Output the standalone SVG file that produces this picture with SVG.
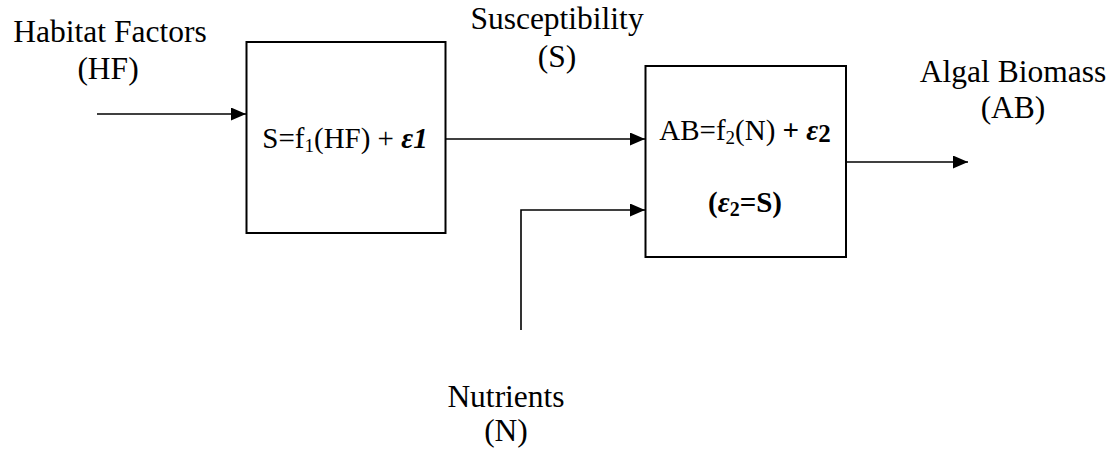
<svg xmlns="http://www.w3.org/2000/svg" width="1115" height="452" viewBox="0 0 1115 452" font-family="'Liberation Serif', 'Times New Roman', serif">
<style>
  .lbl { font-family: 'Liberation Serif', 'Times New Roman', serif; font-size: 31.5px; text-anchor: middle; fill: #000; }
  .eq { font-family: 'Liberation Serif', 'Times New Roman', serif; font-size: 29px; text-anchor: middle; fill: #000; }
  .box { fill: #fff; stroke: #000; stroke-width: 2; }
  .con { fill: none; stroke: #000; stroke-width: 1.6; }
  .bi { font-weight: bold; font-style: italic; }
</style>
<defs>
  <marker id="ah" markerUnits="userSpaceOnUse" markerWidth="16" markerHeight="14" refX="15" refY="6.5" orient="auto">
    <path d="M0,0 L15,6.5 L0,13 z" fill="#000"/>
  </marker>
</defs>
<rect width="1115" height="452" fill="#fff"/>
<g id="connectors">
  <line class="con" x1="97" y1="114" x2="246" y2="114" marker-end="url(#ah)"/>
  <line class="con" x1="446" y1="139" x2="645" y2="139" marker-end="url(#ah)"/>
  <polyline class="con" points="521,330 521,210 645,210" marker-end="url(#ah)"/>
  <line class="con" x1="846" y1="162" x2="968" y2="162" marker-end="url(#ah)"/>
</g>
<g id="habitat-factors">
  <text class="lbl" x="110" y="42">Habitat Factors</text>
  <text class="lbl" x="108" y="79">(HF)</text>
</g>
<g id="susceptibility">
  <text class="lbl" x="557" y="29">Susceptibility</text>
  <text class="lbl" x="557" y="67">(S)</text>
</g>
<g id="algal-biomass">
  <text class="lbl" x="1013" y="82">Algal Biomass</text>
  <text class="lbl" x="1013" y="118">(AB)</text>
</g>
<g id="nutrients">
  <text class="lbl" x="506" y="407">Nutrients</text>
  <text class="lbl" x="506" y="441">(N)</text>
</g>
<g id="box1">
  <rect class="box" x="246.5" y="42" width="199" height="191"/>
  <text class="eq" x="345" y="148">S=f<tspan font-size="19" dy="4">1</tspan><tspan dy="-4">(HF) + </tspan><tspan class="bi">ε1</tspan></text>
</g>
<g id="box2">
  <rect class="box" x="645.5" y="66" width="200.5" height="191"/>
  <text class="eq" x="745" y="140">AB=f<tspan font-size="19" dy="4">2</tspan><tspan dy="-4">(N) </tspan><tspan font-weight="bold">+ </tspan><tspan class="bi">ε</tspan><tspan font-weight="bold" font-size="25" dy="2">2</tspan></text>
  <text class="eq" x="745" y="212" font-weight="bold">(<tspan font-style="italic">ε</tspan><tspan font-size="20" dy="4">2</tspan><tspan dy="-4">=S)</tspan></text>
</g>
</svg>
